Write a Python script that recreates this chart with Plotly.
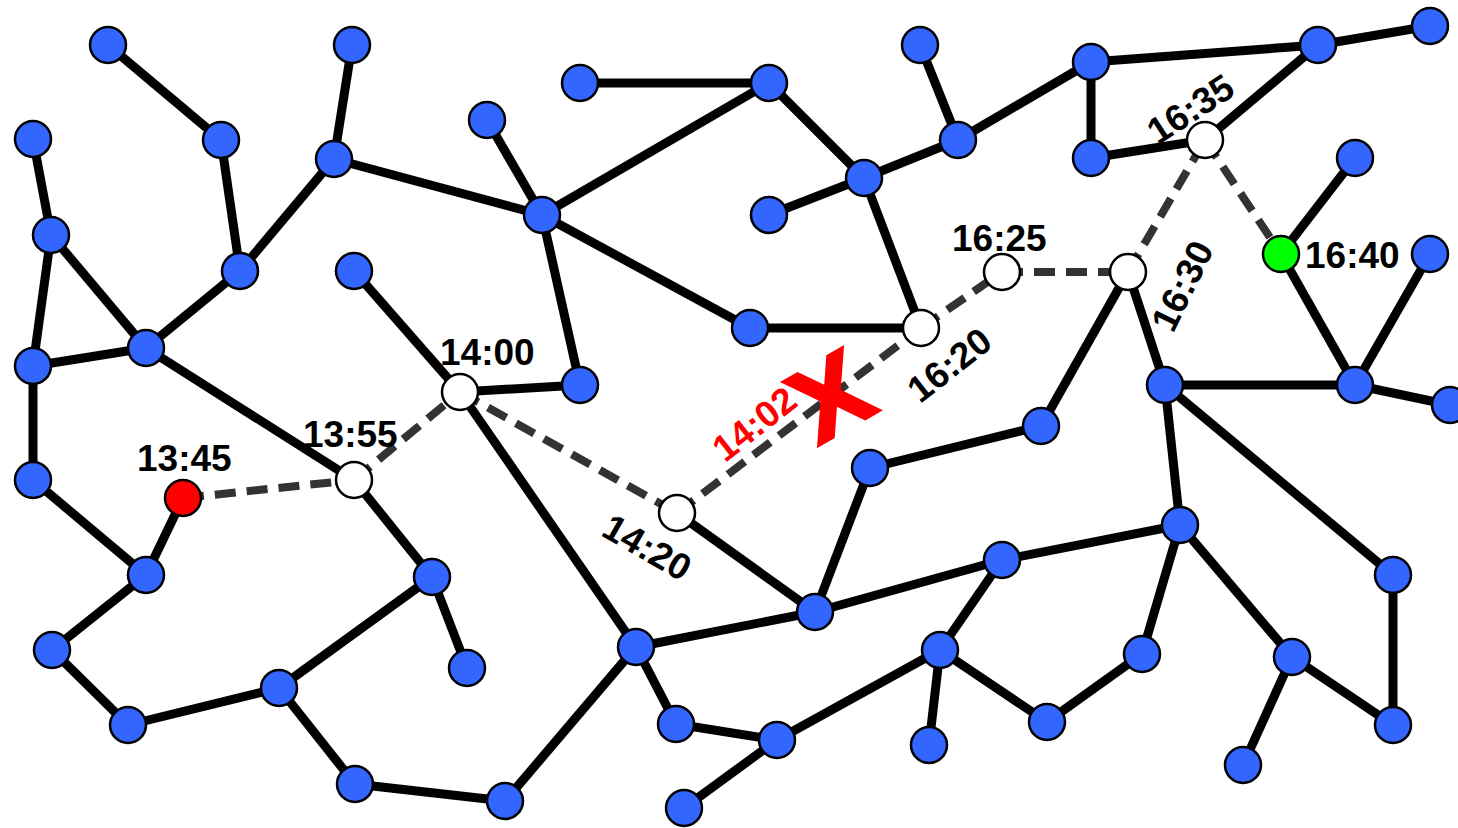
import plotly.graph_objects as go

# ---- data: node positions (pixel space of the drawing) ----
node_names = ["A1","A2","A3","A4","A5","A6","A7","A8","A9","A10","A11","A12","A13","A14","A15","A16",
              "A17","A18","A19","A20","A21","A22","A23","A24","A25","A26","A27","A28","A29","A30","A31",
              "A32","A33","A34","A35","A36","A37","A38","A39","A40","A41","A42","A43","A44","A45","A46",
              "A47","A48","A49","A50","A51","A52","A53","A54","A55",
              "RED","W1355","W1400","W1420","W1620","W1625","W1630","W1635","GREEN"]
node_x = [108,221,352,334,33,51,240,146,33,33,146,354,580,487,580,542,
          769,864,769,750,920,958,1091,1091,1318,1430,1355,1430,1165,1355,1450,
          870,1041,815,1002,1180,940,1142,1393,1292,1393,1243,1047,929,777,676,
          684,636,505,355,279,432,467,128,52,
          183,354,460,677,921,1002,1128,1205,1281]
node_y = [45,140,45,159,139,235,271,348,366,480,575,271,385,120,83,215,
          83,178,215,328,45,140,62,158,45,26,158,254,385,385,405,
          468,426,612,560,525,650,654,575,657,725,765,722,745,740,724,
          808,647,801,784,688,577,668,725,650,
          498,480,392,513,328,272,272,140,254]
node_kind = (["blue"] * 55) + ["red", "white", "white", "white", "white", "white", "white", "white", "green"]

solid_edges = [
    ("A1","A2"),("A2","A7"),("A3","A4"),("A4","A7"),("A4","A16"),("A5","A6"),("A6","A9"),("A6","A8"),
    ("A7","A8"),("A8","A9"),("A8","W1355"),("A9","A10"),("A10","A11"),("A11","RED"),("A11","A55"),
    ("A55","A54"),("A54","A51"),("A51","A50"),("A51","A52"),("A52","A53"),("A52","W1355"),("A50","A49"),
    ("A49","A48"),("A48","W1400"),("A48","A46"),("A48","A34"),("A46","A45"),("A45","A47"),("A45","A37"),
    ("A37","A44"),("A37","A43"),("A37","A35"),("A43","A38"),("A38","A36"),("A35","A36"),("A34","A35"),
    ("A34","A32"),("A34","W1420"),("A32","A33"),("A33","W1630"),("W1630","A29"),("A29","A36"),
    ("A29","A30"),("A29","A39"),("A30","A31"),("A30","GREEN"),("A30","A28"),("GREEN","A27"),
    ("A36","A40"),("A40","A41"),("A40","A42"),("A39","A41"),("A12","W1400"),("W1400","A13"),
    ("A13","A16"),("A14","A16"),("A16","A17"),("A16","A20"),("A15","A17"),("A17","A18"),("A18","A19"),
    ("A18","A22"),("A18","W1620"),("A20","W1620"),("A21","A22"),("A22","A23"),("A23","A24"),
    ("A23","A25"),("A25","A26"),("A25","W1635"),("A24","W1635"),
]
route = ["RED","W1355","W1400","W1420","W1620","W1625","W1630","W1635","GREEN"]

# time labels: text, x, y, angle, colour
label_text  = ["13:45","13:55","14:00","14:20","14:02","16:20","16:25","16:30","16:35","16:40"]
label_x     = [184, 350, 487, 647, 754, 949, 999, 1182, 1190, 1352]
label_y     = [458, 434, 352, 547, 424, 365, 238, 286, 109, 255]
label_angle = [0, 0, 0, 30, -38, -38, 0, -64, -33, 0]
label_color = ["black","black","black","black","red","black","black","black","black","black"]

break_mark = {"text": "X", "x": 832, "y": 398, "angle": -30}

# ---- build ----
pos = {n: (x, y) for n, x, y in zip(node_names, node_x, node_y)}
fig = go.Figure()

ex, ey = [], []
for a, b in solid_edges:
    ex += [pos[a][0], pos[b][0], None]
    ey += [pos[a][1], pos[b][1], None]
fig.add_trace(go.Scatter(x=ex, y=ey, mode="lines", line=dict(color="black", width=9),
                         hoverinfo="skip", showlegend=False))

rx, ry = [], []
for a, b in zip(route[:-1], route[1:]):
    rx += [pos[a][0], pos[b][0], None]
    ry += [pos[a][1], pos[b][1], None]
fig.add_trace(go.Scatter(x=rx, y=ry, mode="lines",
                         line=dict(color="#333333", width=8, dash="21px,11px"),
                         hoverinfo="skip", showlegend=False))

fill = {"blue": "#3366ff", "red": "#ff0000", "white": "#ffffff", "green": "#00ff00"}
fig.add_trace(go.Scatter(x=node_x, y=node_y, mode="markers",
                         marker=dict(size=36, color=[fill[k] for k in node_kind],
                                     line=dict(color="black", width=2.5)),
                         text=node_names, hoverinfo="text", showlegend=False))

for t, x, y, ang, col in zip(label_text, label_x, label_y, label_angle, label_color):
    fig.add_annotation(x=x, y=y, text=t, showarrow=False, textangle=ang,
                       xanchor="center", yanchor="middle",
                       font=dict(family="Liberation Sans, Arial", size=37, color=col, weight="bold"))

fig.add_annotation(x=break_mark["x"], y=break_mark["y"], text=break_mark["text"], showarrow=False,
                   textangle=break_mark["angle"], xanchor="center", yanchor="middle",
                   font=dict(family="DejaVu Sans", size=104, color="#ff0000", weight="bold"))

fig.update_layout(width=1458, height=828, margin=dict(l=0, r=0, t=0, b=0),
                  paper_bgcolor="white", plot_bgcolor="white",
                  xaxis=dict(range=[0, 1458], visible=False, fixedrange=True),
                  yaxis=dict(range=[828, 0], visible=False, fixedrange=True))

fig.write_html("out.html", config={"displayModeBar": False},
               post_script="document.body.style.margin='0';document.body.style.overflow='hidden';")
